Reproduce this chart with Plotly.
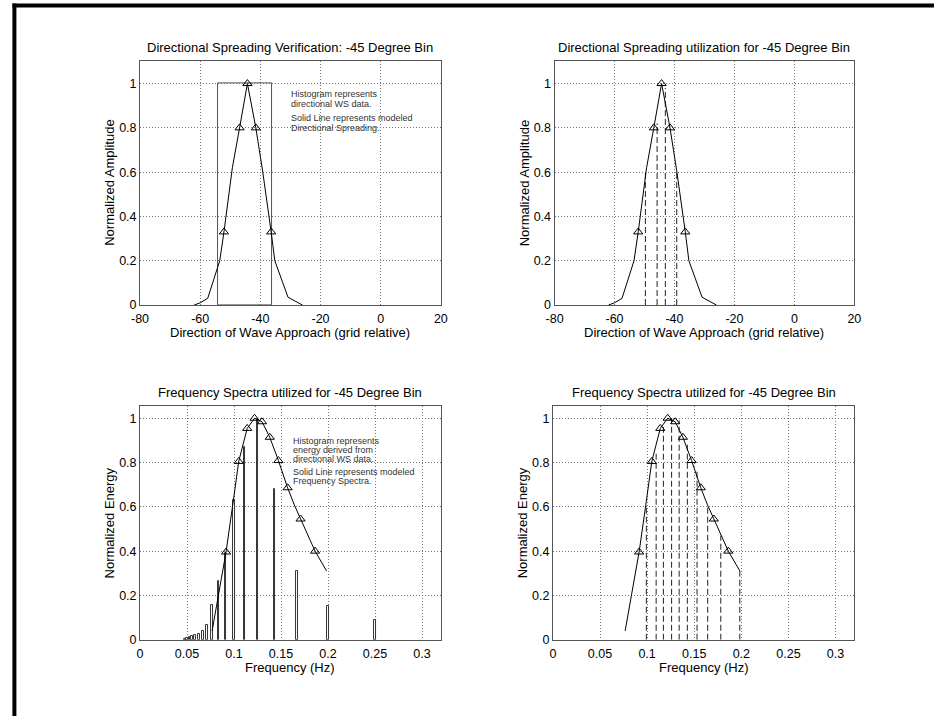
import plotly.graph_objects as go

# ---------------- data ----------------
# Directional spreading (deg, normalized amplitude)
dir_x = [-62, -60, -57.5, -53.5, -52.1, -49.3, -46.9, -44.3, -41.5, -39.3, -36.4, -35.2, -30.8, -26]
dir_y = [0, 0.01, 0.03, 0.2, 0.33, 0.62, 0.8, 1.0, 0.8, 0.61, 0.33, 0.2, 0.035, 0]
dir_tri_x = [-52.1, -46.9, -44.3, -41.5, -36.4]
dir_tri_y = [0.33, 0.8, 1.0, 0.8, 0.33]
# directional histogram (one bin)
dir_hist_center = [-45]
dir_hist_height = [1.0]
dir_hist_width = [18]
# utilized directions (dashed)
dir_used_x = [-49.7, -45.8, -43.05, -39.25]
dir_used_y = [0.6, 0.82, 0.98, 0.61]

# Frequency spectrum (Hz, normalized energy)
spec_x = [0.0767, 0.0820, 0.0870, 0.0915, 0.0990, 0.1050, 0.1140, 0.1218, 0.1298,
          0.1380, 0.1472, 0.1570, 0.1640, 0.1708, 0.1862, 0.1985]
spec_y = [0.04, 0.17, 0.28, 0.396, 0.62, 0.805, 0.954, 1.0, 0.984,
          0.914, 0.809, 0.686, 0.61, 0.545, 0.40, 0.31]
spec_tri_x = [0.0915, 0.1050, 0.1140, 0.1218, 0.1298, 0.1380, 0.1472, 0.1570, 0.1708, 0.1862]
spec_tri_y = [0.396, 0.805, 0.954, 1.0, 0.984, 0.914, 0.809, 0.686, 0.545, 0.40]
# energy histogram from directional WS data
bar_f = [0.0476, 0.05, 0.0526, 0.0556, 0.0588, 0.0625, 0.0667, 0.0714, 0.0769,
         0.0833, 0.0909, 0.1, 0.1111, 0.125, 0.1429, 0.1667, 0.2, 0.25]
bar_e = [0.004, 0.01, 0.012, 0.015, 0.02, 0.027, 0.04, 0.065, 0.155,
         0.265, 0.39, 0.63, 0.87, 0.995, 0.68, 0.31, 0.15, 0.088]
# utilized frequencies (dashed)
freq_used_x = [0.0992, 0.1096, 0.1173, 0.1260, 0.1340, 0.1427, 0.1530, 0.1643, 0.1782, 0.1984]
freq_used_y = [0.60, 0.84, 0.96, 1.0, 0.99, 0.89, 0.77, 0.61, 0.47, 0.31]

# ticks
dir_ticks = [-80, -60, -40, -20, 0, 20]
dir_tick_text = ["-80", "-60", "-40", "-20", "0", "20"]
freq_ticks = [0, 0.05, 0.1, 0.15, 0.2, 0.25, 0.3]
freq_tick_text = ["0", "0.05", "0.1", "0.15", "0.2", "0.25", "0.3"]
amp_ticks = [0, 0.2, 0.4, 0.6, 0.8, 1]
amp_tick_text = ["0", "0.2", "0.4", "0.6", "0.8", "1"]

titles = ["Directional Spreading Verification: -45 Degree Bin",
          "Directional Spreading utilization for -45 Degree Bin",
          "Frequency Spectra utilized for -45 Degree Bin",
          "Frequency Spectra utilized for -45 Degree Bin"]
xtitles = ["Direction of Wave Approach (grid relative)",
           "Direction of Wave Approach (grid relative)",
           "Frequency (Hz)", "Frequency (Hz)"]
ytitles = ["Normalized Amplitude", "Normalized Amplitude",
           "Normalized Energy", "Normalized Energy"]
note_tl = ["Histogram represents", "directional WS data.",
           "Solid Line represents modeled", "Directional Spreading."]
note_bl = ["Histogram represents", "energy derived from", "directional WS data.",
           "Solid Line represents modeled", "Frequency Spectra."]

# ---------------- layout helpers ----------------
W, H = 941, 723
def px(p): return p / W
def py(p): return 1 - p / H

FONT = "Liberation Sans, Arial, sans-serif"

def vlines(xs, ys):
    X, Y = [], []
    for a, b in zip(xs, ys):
        X += [a, a, None]
        Y += [0, b, None]
    return X, Y

fig = go.Figure()

line_style = dict(color="black", width=1)
tri_style = dict(symbol="triangle-up-open", size=8, color="black", line=dict(color="black", width=1))
dash_style = dict(color="#222", width=1, dash="6px,3px")

# Top-left
fig.add_trace(go.Bar(x=dir_hist_center, y=dir_hist_height, width=dir_hist_width,
                     marker=dict(color="rgba(0,0,0,0)", line=dict(color="#555", width=1)),
                     xaxis="x", yaxis="y"))
fig.add_trace(go.Scatter(x=dir_x, y=dir_y, mode="lines", line=line_style, xaxis="x", yaxis="y"))
fig.add_trace(go.Scatter(x=dir_tri_x, y=dir_tri_y, mode="markers", marker=tri_style, xaxis="x", yaxis="y"))

# Top-right
vx, vy = vlines(dir_used_x, dir_used_y)
fig.add_trace(go.Scatter(x=vx, y=vy, mode="lines", line=dash_style, xaxis="x2", yaxis="y2"))
fig.add_trace(go.Scatter(x=dir_x, y=dir_y, mode="lines", line=line_style, xaxis="x2", yaxis="y2"))
fig.add_trace(go.Scatter(x=dir_tri_x, y=dir_tri_y, mode="markers", marker=tri_style, xaxis="x2", yaxis="y2"))

# Bottom-left
fig.add_trace(go.Bar(x=bar_f, y=bar_e, width=[0.0017] * len(bar_f),
                     marker=dict(color="white", line=dict(color="#333", width=1)),
                     xaxis="x3", yaxis="y3"))
fig.add_trace(go.Scatter(x=spec_x, y=spec_y, mode="lines", line=line_style, xaxis="x3", yaxis="y3"))
fig.add_trace(go.Scatter(x=spec_tri_x, y=spec_tri_y, mode="markers", marker=tri_style, xaxis="x3", yaxis="y3"))

# Bottom-right
vx, vy = vlines(freq_used_x, freq_used_y)
fig.add_trace(go.Scatter(x=vx, y=vy, mode="lines", line=dash_style, xaxis="x4", yaxis="y4"))
fig.add_trace(go.Scatter(x=spec_x, y=spec_y, mode="lines", line=line_style, xaxis="x4", yaxis="y4"))
fig.add_trace(go.Scatter(x=spec_tri_x, y=spec_tri_y, mode="markers", marker=tri_style, xaxis="x4", yaxis="y4"))

ax = dict(showline=True, mirror=True, linecolor="#555", linewidth=1,
          showgrid=True, gridcolor="#777", griddash="1px,2px", gridwidth=1,
          zeroline=False, ticks="", fixedrange=True,
          tickfont=dict(family=FONT, size=12.5, color="black"))

# panel pixel boxes: (left, right, top, bottom)
boxes = [(133.3, 439.3, 62, 308), (555, 860, 62, 308),
         (133.3, 439.3, 410, 646), (553.3, 860, 410, 646)]

layout = dict(width=W, height=H, autosize=False, showlegend=False,
              margin=dict(l=0, r=0, t=0, b=0, pad=0),
              paper_bgcolor="white", plot_bgcolor="white", bargap=0,
              barmode="overlay")

for i, (l, r, t, b) in enumerate(boxes):
    sx = "" if i == 0 else str(i + 1)
    if i < 2:
        xa = dict(ax, domain=[px(l), px(r)], range=[-80, 20], tickvals=dir_ticks, ticktext=dir_tick_text,
                  anchor="y" + sx, ticklabelstandoff=2)
        ya = dict(ax, domain=[py(b), py(t)], range=[0, 1.1], tickvals=amp_ticks, ticktext=amp_tick_text,
                  anchor="x" + sx)
    else:
        xa = dict(ax, domain=[px(l), px(r)], range=[0, 0.32], tickvals=freq_ticks, ticktext=freq_tick_text,
                  anchor="y" + sx, ticklabelstandoff=2)
        ya = dict(ax, domain=[py(b), py(t)], range=[0, 1.055], tickvals=amp_ticks, ticktext=amp_tick_text,
                  anchor="x" + sx)
    layout["xaxis" + sx] = xa
    layout["yaxis" + sx] = ya

annotations = []
for i, (l, r, t, b) in enumerate(boxes):
    cx = (l + r) / 2
    annotations.append(dict(text=titles[i], x=px(cx), y=py(t - 14), xref="paper", yref="paper",
                            showarrow=False, xanchor="center", yanchor="middle",
                            font=dict(family=FONT, size=13, color="black")))
    annotations.append(dict(text=xtitles[i], x=px(cx), y=py(b + 28), xref="paper", yref="paper",
                            showarrow=False, xanchor="center", yanchor="middle",
                            font=dict(family=FONT, size=13, color="black")))
    annotations.append(dict(text=ytitles[i], x=px(l - 31), y=py((t + b) / 2), xref="paper", yref="paper",
                            showarrow=False, xanchor="center", yanchor="middle", textangle=-90,
                            font=dict(family=FONT, size=13, color="black")))

note_tl_y = [95, 105, 119.3, 129.3]
for txt, yy in zip(note_tl, note_tl_y):
    annotations.append(dict(text=txt, x=px(285), y=py(yy), xref="paper", yref="paper",
                            showarrow=False, xanchor="left", yanchor="middle",
                            font=dict(family=FONT, size=9, color="#333")))
note_bl_y = [445.5, 454.5, 463.3, 476.7, 485.7]
for txt, yy in zip(note_bl, note_bl_y):
    annotations.append(dict(text=txt, x=px(286.7), y=py(yy), xref="paper", yref="paper",
                            showarrow=False, xanchor="left", yanchor="middle",
                            font=dict(family=FONT, size=9, color="#333")))
layout["annotations"] = annotations

# outer frame (top and left thick black edges)
layout["shapes"] = [
    dict(type="line", xref="paper", yref="paper", x0=px(3.5), x1=1, y0=py(5.5), y1=py(5.5),
         line=dict(color="black", width=4)),
    dict(type="line", xref="paper", yref="paper", x0=px(5.5), x1=px(5.5), y0=0, y1=py(3.5),
         line=dict(color="black", width=4)),
]

fig.update_layout(**layout)
fig.write_html("out.html",
               config={"displayModeBar": False, "responsive": False},
               post_script="document.body.style.margin='0';document.body.style.padding='0';"
                           "document.body.style.overflow='hidden';")
